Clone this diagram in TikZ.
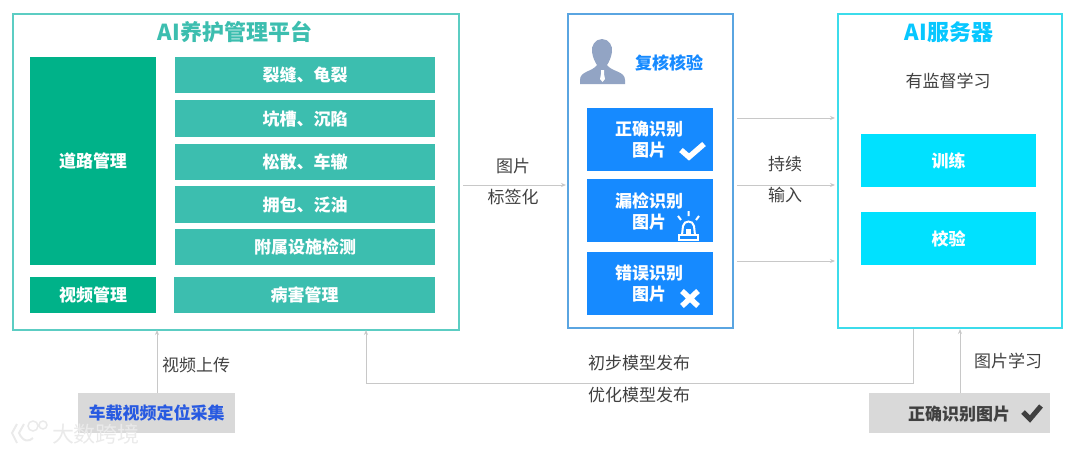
\documentclass[tikz,border=0pt]{standalone}
\usepackage{fontspec}
\setmainfont{Noto Sans CJK SC}
\usepackage{xcolor}
\usetikzlibrary{arrows.meta, positioning, calc}
\definecolor{frameteal}{RGB}{92,205,195}
\definecolor{roadgreen}{RGB}{0,178,137}
\definecolor{rowteal}{RGB}{60,190,175}
\definecolor{reviewblue}{RGB}{90,165,225}
\definecolor{cardblue}{RGB}{22,138,255}
\definecolor{servercyan}{RGB}{60,220,235}
\definecolor{trainfill}{RGB}{0,225,255}
\definecolor{boxgray}{RGB}{217,217,217}
\definecolor{linegray}{RGB}{200,200,200}
\definecolor{persongray}{RGB}{146,164,196}
\definecolor{labelgray}{RGB}{64,64,64}
\definecolor{collectblue}{RGB}{40,90,225}
\definecolor{markgray}{RGB}{234,234,234}

\begin{document}
\begin{tikzpicture}[
  x=1pt, y=-1pt,
  frame/.style = {rectangle, draw=#1, line width=2pt, fill=white, anchor=north west, inner sep=0pt},
  tile/.style = {rectangle, fill=#1, text=white, anchor=north west, inner sep=0pt,
    font=\bfseries\fontsize{17}{20}\selectfont, align=center},
  title/.style = {font=\bfseries\fontsize{#1}{26}\selectfont},
  lbl/.style = {text=labelgray, font=\fontsize{17}{20}\selectfont, inner sep=0pt},
  cardtext/.style = {text=white, inner sep=0pt, font=\bfseries\fontsize{17}{20}\selectfont},
  arr/.style = {-{Stealth[length=5pt,width=4pt]}, linegray, line width=1pt}
]
\useasboundingbox (0,0) rectangle (1080,453);
% three frames
\node[frame=frameteal, minimum width=446pt, minimum height=316pt]  (platform) at (12,13) {};
\node[frame=reviewblue, minimum width=165pt, minimum height=314pt] (review) at (567,13) {};
\node[frame=servercyan, minimum width=224pt, minimum height=314pt] (server) at (837,13) {};
\node[title=22, text=rowteal] (platformtitle) at (235,32) {AI养护管理平台};
\node[title=22, text=trainfill!70!cardblue] (servertitle) at (949,32) {AI服务器};
\node[lbl] (supervised) at (948,81) {有监督学习};
% left side
\node[tile=roadgreen, minimum width=126pt, minimum height=208pt] (road) at (30,57) {};
\node[cardtext] (roadlabel) at (93,161) {道路管理};
\node[tile=roadgreen, minimum width=126pt, minimum height=36pt] (video) at (30,277) {视频管理};
\node[tile=rowteal, minimum width=260pt, minimum height=36pt] (crack) at (175,57) {裂缝、龟裂};
\node[tile=rowteal, minimum width=260pt, minimum height=37pt] (pit) at (175,100) {坑槽、沉陷};
\node[tile=rowteal, minimum width=260pt, minimum height=36pt] (loose) at (175,144) {松散、车辙};
\node[tile=rowteal, minimum width=260pt, minimum height=37pt] (bulge) at (175,186) {拥包、泛油};
\node[tile=rowteal, minimum width=260pt, minimum height=36pt] (attach) at (175,229) {附属设施检测};
\node[tile=rowteal, minimum width=261pt, minimum height=36pt] (disease) at (174,277) {病害管理};
% review column
\node[title=17, text=cardblue] (reviewtitle) at (669,63) {复核核验};
\fill[persongray] (602,39) .. controls (595,39) and (591,46) .. (592,52)
  .. controls (593,58) and (595,62) .. (597,65) .. controls (592,72) and (580,71) .. (580,80)
  -- (580,84) -- (625,84) -- (625,80) .. controls (625,71) and (612,72) .. (607,65)
  .. controls (609,62) and (611,58) .. (612,52) .. controls (613,46) and (609,39) .. (602,39) -- cycle;
\fill[white] (601,70) -- (604,70) -- (604,74) -- (605,79) -- (602.5,82) -- (600,79) -- (601,74) -- cycle;
\node[tile=cardblue, minimum width=126pt, minimum height=63pt] (correct) at (587,108) {};
\node[tile=cardblue, minimum width=126pt, minimum height=63pt] (missed) at (587,179) {};
\node[tile=cardblue, minimum width=126pt, minimum height=63pt] (wrong) at (587,252) {};
\node[cardtext] (correcta) at (649,129) {正确识别};
\node[cardtext] (correctb) at (649,150) {图片};
\node[cardtext] (misseda) at (649,201) {漏检识别};
\node[cardtext] (missedb) at (649,222) {图片};
\node[cardtext] (wronga) at (649,273) {错误识别};
\node[cardtext] (wrongb) at (649,294) {图片};
% icons
\draw[white, line width=5.5pt] (681,150) -- (689,157) -- (704,144);
\draw[white, line width=2pt] (679,235) rectangle (698,240);
\draw[white, line width=2pt] (682,235) -- (683,226) .. controls (684,220) and (693,220) .. (694,226) -- (695,235);
\fill[white] (686,229) rectangle (691,235);
\draw[white, line width=2pt] (678,216) -- (681,220) (688.5,211) -- (688.5,216) (699,216) -- (696,220);
\draw[white, line width=5.5pt] (682,291) -- (698,306) (698,291) -- (682,306);
% server
\node[tile=trainfill, minimum width=175pt, minimum height=53pt] (train) at (861,134) {训练};
\node[tile=trainfill, minimum width=175pt, minimum height=53pt] (verify) at (861,212) {校验};
% bottom boxes
\node[tile=boxgray, minimum width=157pt, minimum height=40pt, text=collectblue] (collect) at (78,393) {车载视频定位采集};
\node[tile=boxgray, minimum width=181pt, minimum height=40pt] (correctpic) at (869,393) {};
\node[lbl, font=\bfseries\fontsize{17}{20}\selectfont] (correctpiclabel) at (959,414) {正确识别图片};
\draw[labelgray, line width=5pt] (1023,412) -- (1030,419) -- (1041,406);
% free ends
\coordinate (tagstart) at (463,185);
\coordinate (tagend) at (566,185);
\coordinate (ina) at (737,118);
\coordinate (inb) at (737,185);
\coordinate (inc) at (737,261);
\coordinate (outa) at (835,118);
\coordinate (outb) at (835,185);
\coordinate (outc) at (835,261);
\coordinate (videoup) at (157,330);
\coordinate (videofrom) at (157,393);
\coordinate (learnup) at (960,329);
\coordinate (learnfrom) at (960,393);
\coordinate (modelfrom) at (913,329);
\coordinate (modelturn) at (913,383);
\coordinate (modelback) at (366,383);
\coordinate (modelto) at (366,330);
\draw[arr] (tagstart)--(tagend);
\draw[arr] (ina)--(outa);
\draw[arr] (inb)--(outb);
\draw[arr] (inc)--(outc);
\draw[arr] (videofrom)--(videoup);
\draw[arr] (learnfrom)--(learnup);
\draw[arr] (modelfrom)--(modelturn)--(modelback)--(modelto);
% labels
\node[lbl] (tagtop) at (513,166) {图片};
\node[lbl] (tagbot) at (513,197) {标签化};
\node[lbl] (keep) at (785,164) {持续};
\node[lbl] (feed) at (785,195) {输入};
\node[lbl] (videolabel) at (196,365) {视频上传};
\node[lbl] (firstmodel) at (639,363) {初步模型发布};
\node[lbl] (bettermodel) at (639,395) {优化模型发布};
\node[lbl] (learnlabel) at (1008,361) {图片学习};
% watermark
\draw[markgray, line width=2pt] (17,424) -- (12,433) -- (17,443) (24,424) -- (19,433) .. controls (23,442) and (29,442) .. (33,438);
\draw[markgray, line width=1.5pt] (33,426) circle (5pt) (43,425) circle (4pt);
\node[text=markgray, inner sep=0pt, font=\fontsize{22}{26}\selectfont] (watermark) at (96,434) {大数跨境};
\end{tikzpicture}
\end{document}
